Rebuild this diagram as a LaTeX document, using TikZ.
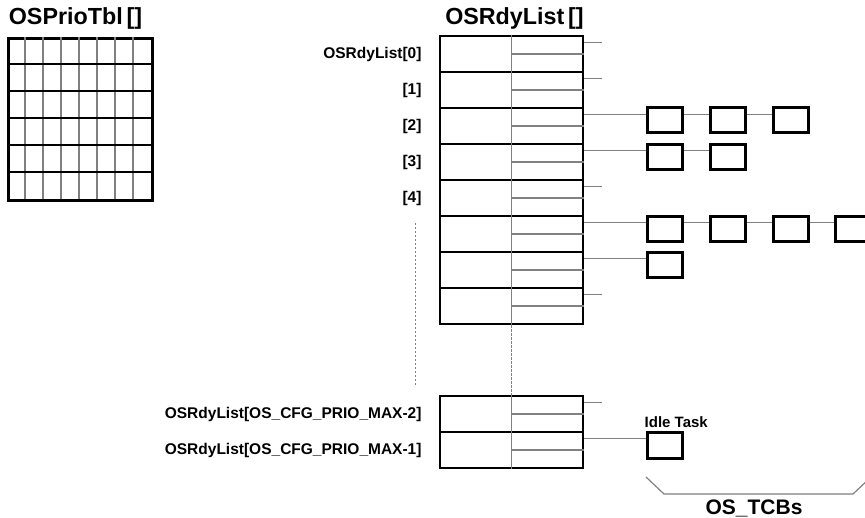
\documentclass[tikz,border=0pt]{standalone}
\usepackage{fontspec}
\setmainfont{Liberation Sans}
\usetikzlibrary{calc,positioning}
\definecolor{grigio}{RGB}{128,128,128}

\begin{document}
\begin{tikzpicture}[x=1pt, y=-1pt]
	% Stili
	\tikzset{
		riga/.style={draw, line width=2.6pt, minimum width=143pt, minimum height=36pt, inner sep=0pt},
		tcb/.style={draw, line width=3pt, minimum width=35pt, minimum height=25pt, inner sep=0pt},
		filo/.style={grigio, line width=1.2pt},
		tratteggio/.style={grigio, line width=0.9pt, dash pattern=on 2.5pt off 1.5pt},
		etich/.style={font=\fontsize{15.5}{18}\selectfont\bfseries, inner sep=0pt},
		titolo/.style={font=\fontsize{23.3}{28}\selectfont\bfseries, inner sep=0pt}
	}
	\useasboundingbox (0,0) rectangle (865,518);

	% Tabella delle priorita'
	\node[titolo] (titprio) at (75.5,18) {OSPrioTbl\,[]};
	\node[draw, line width=2.6pt, minimum width=144pt, minimum height=162pt, inner sep=0pt, anchor=north west] (tabella) at (7,37) {};
	\foreach \k in {1,...,7}
		\draw[filo] ({7+18*\k},37) -- ({7+18*\k},199);
	\foreach \k in {1,...,5}
		\draw[line width=2.4pt] (7,{37+27*\k}) -- (151,{37+27*\k});

	% Lista dei task pronti
	\node[titolo] (titrdy) at (514.5,18) {OSRdyList\,[]};
	\foreach \i in {0,...,7}
		\node[riga] (r\i) at (511.5,{54+36*\i}) {};
	\node[riga] (ra) at (511.5,414) {};
	\node[riga] (rb) at (511.5,450) {};

	% Separatori interni
	\draw[filo] (r0.north) -- (r7.south);
	\draw[tratteggio] (r7.south) -- (ra.north);
	\draw[filo] (ra.north) -- (rb.south);
	\foreach \i in {0,...,7}
		\draw[filo] (r\i.center) -- (r\i.east);
	\draw[filo] (ra.center) -- (ra.east);
	\draw[filo] (rb.center) -- (rb.east);

	% Etichette delle righe
	\node[etich, left=17pt of r0.west] (l0) {OSRdyList[0]};
	\node[etich, left=17pt of r1.west] (l1) {[1]};
	\node[etich, left=17pt of r2.west] (l2) {[2]};
	\node[etich, left=17pt of r3.west] (l3) {[3]};
	\node[etich, left=17pt of r4.west] (l4) {[4]};
	\node[etich, left=17pt of ra.west] (la) {OSRdyList[OS\_CFG\_PRIO\_MAX-2]};
	\node[etich, left=17pt of rb.west] (lb) {OSRdyList[OS\_CFG\_PRIO\_MAX-1]};
	\draw[tratteggio] (415,223) -- (415,386);

	% Punti di uscita dei puntatori
	\foreach \i in {0,...,7}
		\coordinate (p\i) at ($(r\i.north east)+(0,8)$);
	\coordinate (pa) at ($(ra.north east)+(0,8)$);
	\coordinate (pb) at ($(rb.north east)+(0,8)$);

	% Liste vuote
	\draw[filo] (p0) -- ++(18,0);
	\draw[filo] (p1) -- ++(18,0);
	\draw[filo] (p4) -- ++(18,0);
	\draw[filo] (p7) -- ++(18,0);
	\draw[filo] (pa) -- ++(18,0);

	% OS_TCB
	\node[tcb] (t2a) at (664.5,120.5) {};
	\node[tcb] (t2b) at (728,120.5) {};
	\node[tcb] (t2c) at (791,120.5) {};
	\node[tcb] (t3a) at (664.5,157) {};
	\node[tcb] (t3b) at (728,157) {};
	\node[tcb] (t5a) at (664.5,229) {};
	\node[tcb] (t5b) at (728,229) {};
	\node[tcb] (t5c) at (791,229) {};
	\node[tcb] (t5d) at (852.5,229) {};
	\node[tcb] (t6a) at (664.5,265) {};
	\node[tcb] (idle) at (664.5,445.5) {};
	\node[etich, font=\fontsize{15}{18}\selectfont\bfseries, above right=4pt and -1pt of idle.north west] (lidle) {Idle Task};

	% Collegamenti
	\draw[filo] (p2) -- (p2 -| t2a.west);
	\draw[filo] (t2a.east |- p2) -- (t2b.west |- p2);
	\draw[filo] (t2b.east |- p2) -- (t2c.west |- p2);
	\draw[filo] (p3) -- (p3 -| t3a.west);
	\draw[filo] (t3a.east |- p3) -- (t3b.west |- p3);
	\draw[filo] (p5) -- (p5 -| t5a.west);
	\draw[filo] (t5a.east |- p5) -- (t5b.west |- p5);
	\draw[filo] (t5b.east |- p5) -- (t5c.west |- p5);
	\draw[filo] (t5c.east |- p5) -- (t5d.west |- p5);
	\draw[filo] (p6) -- (p6 -| t6a.west);
	\draw[filo] (pb) -- (pb -| idle.west);

	% Parentesi OS_TCBs
	\draw[filo] (646,477) -- (664,494) -- (853,494) -- (870,478);
	\node[titolo, font=\fontsize{21}{24}\selectfont\bfseries] (ltcb) at (754,508) {OS\_TCBs};
\end{tikzpicture}
\end{document}
